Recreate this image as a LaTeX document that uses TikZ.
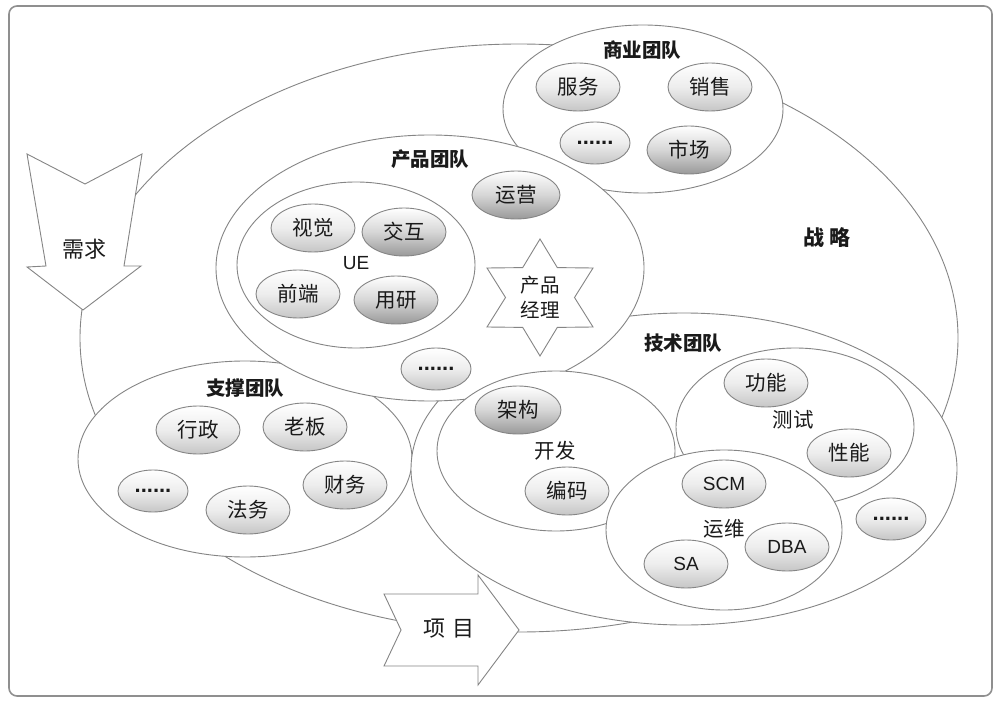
\documentclass[tikz,border=0pt]{standalone}
\usepackage{fontspec}
\setmainfont{Liberation Sans}
\newfontfamily\cjk{Noto Sans CJK SC}
\usetikzlibrary{shapes.geometric}

\definecolor{edge}{HTML}{858585}
\definecolor{framec}{HTML}{8F8F8F}
\definecolor{ink}{HTML}{1A1A1A}
\definecolor{lightbot}{HTML}{C6C6C6}
\definecolor{lightmid}{HTML}{EDEDED}
\definecolor{darkbot}{HTML}{999999}
\definecolor{darkmid}{HTML}{D6D6D6}

\newcommand\itemfnt{\cjk\fontsize{20.5}{24}\selectfont}
\newcommand\latinfnt{\fontsize{19}{22}\selectfont}
\newcommand\dotfnt{\bfseries\fontsize{22}{24}\selectfont}
\newcommand\ttlfnt{\cjk\bfseries\fontsize{19.5}{22}\selectfont}
\newcommand\bigfnt{\cjk\fontsize{22}{26}\selectfont}

\tikzset{
  grp/.style={ellipse, draw=edge, fill=white, line width=0.9pt, inner sep=0pt, outer sep=0pt},
  item/.style={grp, minimum width=84pt, minimum height=48pt,
    top color=white, bottom color=lightbot, middle color=lightmid, text=ink, font=\itemfnt},
  itemdark/.style={item, top color=white, bottom color=darkbot, middle color=darkmid},
  itemlat/.style={item, font=\latinfnt},
  more/.style={item, minimum width=70pt, minimum height=42pt, font=\dotfnt},
  ttl/.style={text=ink, font=\ttlfnt, inner sep=0pt},
  lbl/.style={text=ink, font=\itemfnt, inner sep=0pt},
  shapeline/.style={draw=edge, fill=white, line width=0.9pt, line join=miter},
}

\begin{document}
\begin{tikzpicture}[x=1pt, y=-1pt]
\useasboundingbox (0,0) rectangle (1000,708);

% outer frame
\draw[framec, line width=1.6pt, rounded corners=8pt] (9,6) rectangle (992,696);

% strategy ellipse
\node[grp, minimum width=878pt, minimum height=588pt] (strat) at (519,338) {};

% demand arrow
\draw[shapeline] (27,154) -- (85,184) -- (142,154) -- (124,266) -- (141,266)
  -- (83,310) -- (27,267) -- (46,266) -- cycle;
\node[text=ink, font=\bigfnt, inner sep=0pt] (need) at (84,249) {需求};

% business team
\node[grp, minimum width=280pt, minimum height=168pt] (biz) at (643,109) {};
\node[ttl] (bizT) at (642,50) {商业团队};
\node[item] (fuwu) at (578,87) {服务};
\node[item] (xiaoshou) at (710,87) {销售};
\node[more] (bizmore) at (595,143) {......};
\node[itemdark] (shichang) at (689,150) {市场};

% support team
\node[grp, minimum width=334pt, minimum height=196pt] (sup) at (245,459) {};
\node[ttl] (supT) at (245,388) {支撑团队};
\node[item] (xingzheng) at (198,430) {行政};
\node[item] (laoban) at (305,427) {老板};
\node[more] (supmore) at (153,491) {......};
\node[item] (fawu) at (248,510) {法务};
\node[item] (caiwu) at (345,485) {财务};

% technology team (outline)
\node[grp, minimum width=546pt, minimum height=312pt] (tech) at (684,469) {};

% product team
\node[grp, minimum width=428pt, minimum height=266pt] (prod) at (430,268) {};
\node[ttl] (prodT) at (430,159) {产品团队};
\node[grp, minimum width=238pt, minimum height=166pt] (ue) at (356,265) {};
\node[text=ink, font=\latinfnt, inner sep=0pt] (ueT) at (356,263) {UE};
\node[item] (shijue) at (313,228) {视觉};
\node[itemdark] (jiaohu) at (404,232) {交互};
\node[item] (qianduan) at (298,294) {前端};
\node[itemdark] (yongyan) at (396,300) {用研};
\node[itemdark, minimum width=88pt] (yunying) at (516,195) {运营};
\draw[shapeline] (540,239) -- (557.3,267.6) -- (593,268) -- (574.5,297.5)
  -- (593,327) -- (557.3,327.4) -- (540,356) -- (522.7,327.4) -- (487,327)
  -- (505.5,297.5) -- (487,268) -- (522.7,267.6) -- cycle;
\node[text=ink, font=\cjk\fontsize{19.5}{25}\selectfont, align=center, inner sep=0pt]
  (pm) at (540,297.5) {产品\\经理};
\node[more] (prodmore) at (436,369) {......};

% technology team contents
\node[ttl] (techT) at (683,343) {技术团队};
\node[grp, minimum width=238pt, minimum height=160pt] (dev) at (556,451) {};
\node[lbl] (devT) at (555,451) {开发};
\node[itemdark, minimum width=86pt] (jiagou) at (518,410) {架构};
\node[item] (bianma) at (567,491) {编码};

\node[grp, minimum width=238pt, minimum height=158pt] (test) at (795,427) {};
\node[lbl] (testT) at (793,420) {测试};
\node[item] (gongneng) at (766,383) {功能};
\node[item] (xingneng) at (849,453) {性能};

\node[grp, minimum width=236pt, minimum height=160pt] (ops) at (724,530) {};
\node[lbl] (opsT) at (724,529) {运维};
\node[itemlat] (scm) at (724,484) {SCM};
\node[itemlat] (dba) at (787,547) {DBA};
\node[itemlat] (sa) at (686,564) {SA};

\node[more] (techmore) at (891,519) {......};

% project arrow
\draw[shapeline] (384,594) -- (478,594) -- (478,575) -- (519,630) -- (478,685)
  -- (478,666) -- (384,666) -- (401,630) -- cycle;
\node[text=ink, font=\bigfnt, inner sep=0pt] (proj) at (449,629) {项\hspace{0.3em}目};

% strategy label
\node[text=ink, font=\cjk\bfseries\fontsize{21}{24}\selectfont, inner sep=0pt]
  (stratT) at (827,238) {战 略};
\end{tikzpicture}
\end{document}
